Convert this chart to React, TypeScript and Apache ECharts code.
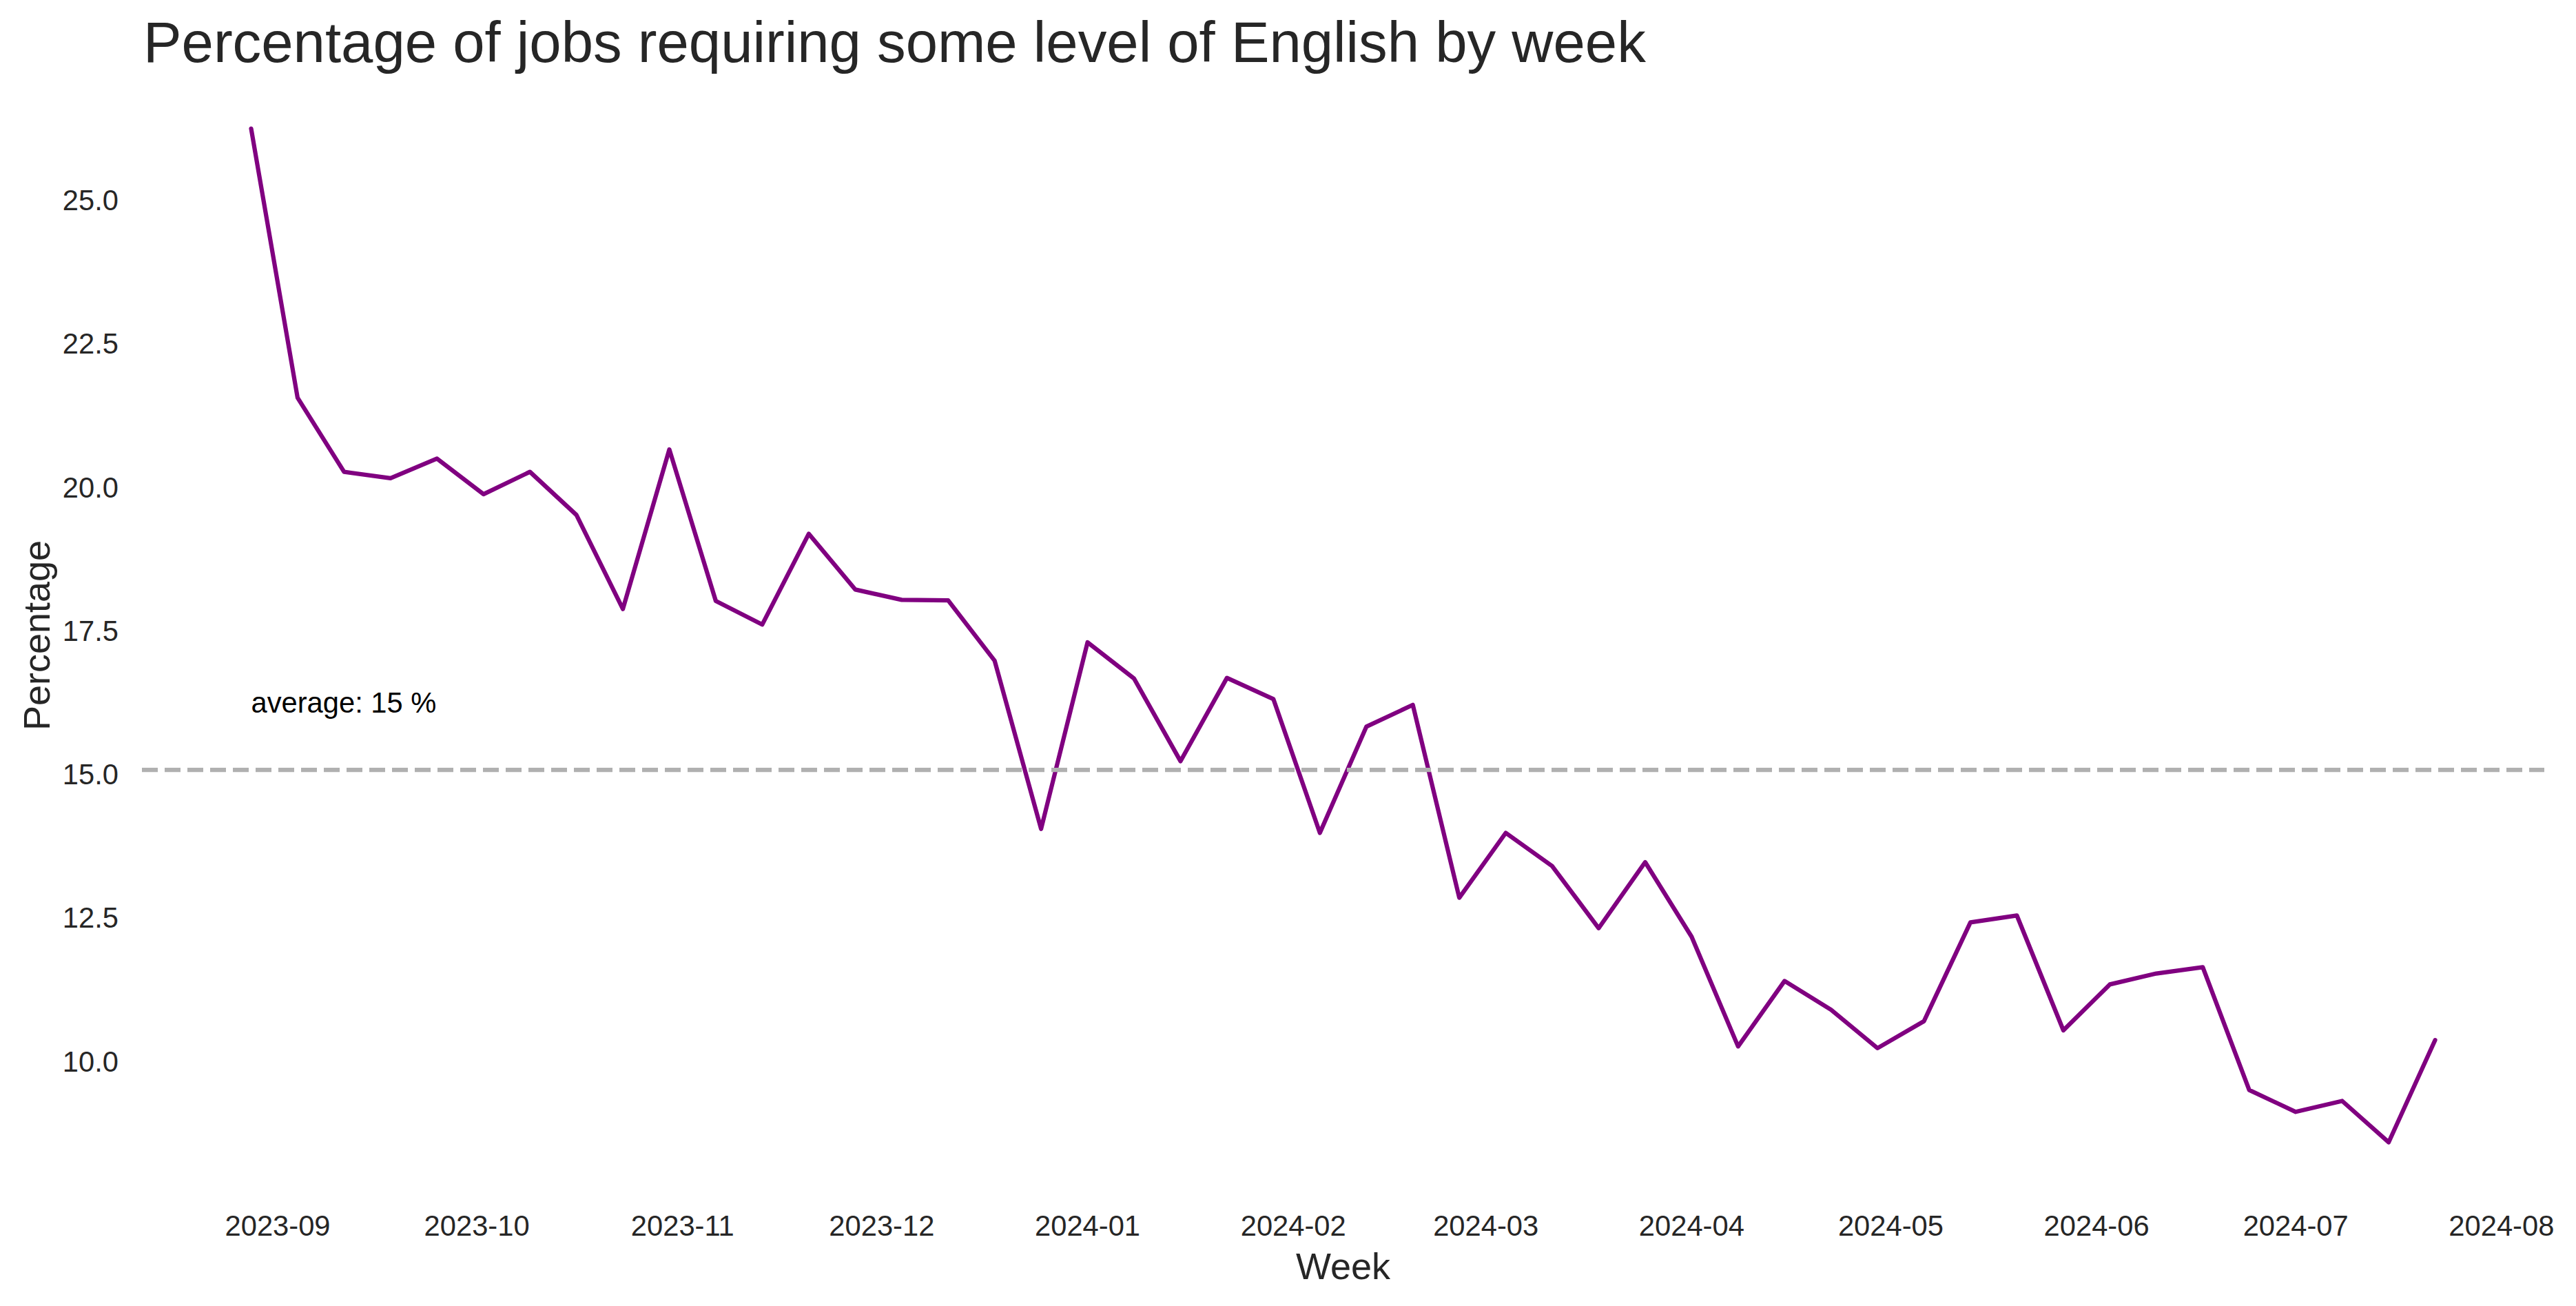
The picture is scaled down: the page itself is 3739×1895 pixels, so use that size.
import React, { useEffect, useRef } from "react";
import * as echarts from "echarts";

const weeks: string[] = [
  "2023-08-28", "2023-09-04", "2023-09-11", "2023-09-18", "2023-09-25",
  "2023-10-02", "2023-10-09", "2023-10-16", "2023-10-23", "2023-10-30",
  "2023-11-06", "2023-11-13", "2023-11-20", "2023-11-27",
  "2023-12-04", "2023-12-11", "2023-12-18", "2023-12-25",
  "2024-01-01", "2024-01-08", "2024-01-15", "2024-01-22", "2024-01-29",
  "2024-02-05", "2024-02-12", "2024-02-19", "2024-02-26",
  "2024-03-04", "2024-03-11", "2024-03-18", "2024-03-25",
  "2024-04-01", "2024-04-08", "2024-04-15", "2024-04-22", "2024-04-29",
  "2024-05-06", "2024-05-13", "2024-05-20", "2024-05-27",
  "2024-06-03", "2024-06-10", "2024-06-17", "2024-06-24",
  "2024-07-01", "2024-07-08", "2024-07-15", "2024-07-22",
];

const percentages: number[] = [
  26.25, 21.56, 20.27, 20.16, 20.5,
  19.88, 20.27, 19.52, 17.88, 20.66,
  18.02, 17.61, 19.19, 18.22,
  18.04, 18.03, 16.98, 14.05,
  17.3, 16.67, 15.23, 16.68, 16.31,
  13.98, 15.83, 16.21, 12.85,
  13.98, 13.4, 12.32, 13.47,
  12.17, 10.26, 11.4, 10.9, 10.23,
  10.7, 12.42, 12.54, 10.54,
  11.34, 11.53, 11.64, 9.5,
  9.12, 9.31, 8.59, 10.37,
];

const monthTicks: string[] = [
  "2023-09", "2023-10", "2023-11", "2023-12", "2024-01", "2024-02",
  "2024-03", "2024-04", "2024-05", "2024-06", "2024-07", "2024-08",
];

const yTicks: number[] = [10, 12.5, 15, 17.5, 20, 22.5, 25];

const FONT = "'Liberation Sans', Arial, Helvetica, sans-serif";
const TEXT = "#262626";

const toTs = (s: string): number => {
  const p = s.split("-").map(Number);
  return Date.UTC(p[0], p[1] - 1, p[2] || 1);
};

const fmtMonth = (v: number): string => {
  const d = new Date(v);
  return `${d.getUTCFullYear()}-${String(d.getUTCMonth() + 1).padStart(2, "0")}`;
};

export default function App() {
  const ref = useRef<HTMLDivElement>(null);

  useEffect(() => {
    if (!ref.current) return;
    const chart = echarts.init(ref.current, undefined, { renderer: "svg" });

    const xs = weeks.map(toTs);
    const xSpan = xs[xs.length - 1] - xs[0];
    const xMin = xs[0] - 0.05 * xSpan;
    const xMax = xs[xs.length - 1] + 0.05 * xSpan;
    const yLo = Math.min(...percentages);
    const yHi = Math.max(...percentages);
    const ySpan = yHi - yLo;
    const yMin = yLo - 0.05 * ySpan;
    const yMax = yHi + 0.05 * ySpan;
    const avg = percentages.reduce((a, b) => a + b, 0) / percentages.length;

    chart.setOption({
      animation: false,
      backgroundColor: "#ffffff",
      textStyle: { fontFamily: FONT },
      title: {
        text: "Percentage of jobs requiring some level of English by week",
        left: 203,
        top: 15,
        textStyle: {
          fontFamily: FONT,
          fontSize: 83.3,
          lineHeight: 83.3,
          fontWeight: "normal",
          color: TEXT,
        },
      },
      grid: { left: 206, right: 46, top: 113, bottom: 164, containLabel: false },
      xAxis: {
        type: "value",
        min: xMin,
        max: xMax,
        name: "Week",
        nameLocation: "middle",
        nameGap: 79,
        nameTextStyle: { fontFamily: FONT, fontSize: 54, lineHeight: 54, color: TEXT },
        axisLine: { show: false },
        axisTick: { show: false },
        splitLine: { show: false },
        axisLabel: {
          customValues: monthTicks.map(toTs),
          formatter: (v: number) => fmtMonth(v),
          fontFamily: FONT,
          fontSize: 41.7,
          lineHeight: 41.7,
          color: TEXT,
          margin: 27,
        },
      },
      yAxis: {
        type: "value",
        min: yMin,
        max: yMax,
        name: "Percentage",
        nameLocation: "middle",
        nameRotate: 90,
        nameGap: 126,
        nameTextStyle: { fontFamily: FONT, fontSize: 54, lineHeight: 54, color: TEXT },
        axisLine: { show: false },
        axisTick: { show: false },
        splitLine: { show: false },
        axisLabel: {
          customValues: yTicks,
          formatter: (v: number) => v.toFixed(1),
          fontFamily: FONT,
          fontSize: 41.7,
          lineHeight: 41.7,
          color: TEXT,
          margin: 34,
        },
      },
      series: [
        {
          type: "line",
          data: xs.map((x, i) => [x, percentages[i]]),
          showSymbol: false,
          symbol: "none",
          lineStyle: { color: "#800080", width: 6.25, join: "round", cap: "round" },
          silent: true,
          markLine: {
            silent: true,
            symbol: "none",
            data: [{ yAxis: avg }],
            label: { show: false },
            lineStyle: { color: "#b0b0b0", width: 6.25, type: [23, 10] },
          },
          markPoint: {
            silent: true,
            symbol: "circle",
            symbolSize: 0,
            data: [{ coord: [xs[0], avg + 1] }],
            label: {
              show: true,
              position: "right",
              distance: 0,
              offset: [0, -14],
              formatter: `average: ${Math.round(avg)} %`,
              fontFamily: FONT,
              fontSize: 41.7,
              lineHeight: 41.7,
              color: "#000000",
            },
          },
        },
      ],
    });

    return () => chart.dispose();
  }, []);

  return (
    <div
      ref={ref}
      style={{ position: "absolute", left: 0, top: 0, width: 3739, height: 1895 }}
    />
  );
}
